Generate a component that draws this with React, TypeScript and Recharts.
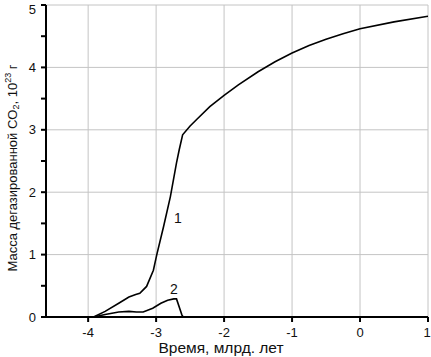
import React from 'react';
import { ComposedChart, Line, XAxis, YAxis, ReferenceLine } from 'recharts';

const curve1X = [-3.92, -3.75, -3.55, -3.4, -3.3, -3.24, -3.14, -3.04, -2.99, -2.89, -2.79, -2.7, -2.66, -2.61, -2.5, -2.4, -2.21, -2.0, -1.79, -1.5, -1.25, -1.0, -0.75, -0.5, -0.25, 0.0, 0.5, 1.0];
const curve1Y = [0, 0.09, 0.22, 0.32, 0.36, 0.38, 0.49, 0.75, 1.0, 1.45, 1.93, 2.47, 2.68, 2.92, 3.06, 3.17, 3.37, 3.55, 3.72, 3.93, 4.09, 4.23, 4.35, 4.45, 4.54, 4.62, 4.73, 4.82];
const curve2X = [-3.92, -3.75, -3.55, -3.4, -3.29, -3.19, -3.05, -2.93, -2.83, -2.74, -2.7, -2.62, -2.6];
const curve2Y = [0, 0.04, 0.08, 0.09, 0.08, 0.08, 0.14, 0.22, 0.27, 0.29, 0.29, 0.03, 0];
const xTicks = [-4, -3, -2, -1, 0, 1];
const yTicks = [0, 0.5, 1, 1.5, 2, 2.5, 3, 3.5, 4, 4.5, 5];
const yGrid = [1, 2, 3, 4, 5];

const data1 = curve1X.map((x, i) => ({ x, y: curve1Y[i] }));
const data2 = curve2X.map((x, i) => ({ x, y: curve2Y[i] }));

const FONT = '"Liberation Sans", Arial, sans-serif';

const YTick = (props: any) => {
  const { x, y, payload } = props;
  if (!Number.isInteger(payload.value)) return null;
  return (
    <text x={x - 3} y={y} dy={4.5} textAnchor="end" fontSize={13} fontFamily={FONT} fill="#111">
      {payload.value}
    </text>
  );
};

const XTick = (props: any) => {
  const { x, y, payload } = props;
  return (
    <text x={x} y={y + 13} textAnchor="middle" fontSize={13} fontFamily={FONT} fill="#111">
      {payload.value}
    </text>
  );
};

const YLabel = () => {
  const cx = 14;
  const cy = 168;
  return (
    <text
      x={cx}
      y={cy}
      transform={`rotate(-90 ${cx} ${cy})`}
      textAnchor="middle"
      dominantBaseline="middle"
      fontSize={13}
      fontFamily={FONT}
      fill="#111"
    >
      <tspan>Масса дегазированной CO</tspan>
      <tspan fontSize={9} dy={3}>2</tspan>
      <tspan dy={-3}>, 10</tspan>
      <tspan fontSize={9} dy={-5}>23</tspan>
      <tspan dy={5}> г</tspan>
    </text>
  );
};

const XLabel = () => (
  <text x={221} y={353} textAnchor="middle" fontSize={15.5} fontFamily={FONT} fill="#111">
    Время, млрд. лет
  </text>
);

export default function App() {
  return (
    <div style={{ position: 'absolute', left: 0, top: 0 }}>
      <ComposedChart width={431} height={357} margin={{ top: 5, right: 3, left: 0, bottom: 0 }}>
        {yGrid.map((v) => (
          <ReferenceLine key={'h' + v} y={v} stroke="#c4c4c4" strokeWidth={1} />
        ))}
        {xTicks.map((v) => (
          <ReferenceLine key={'v' + v} x={v} stroke="#c4c4c4" strokeWidth={1} />
        ))}
        <XAxis
          type="number"
          dataKey="x"
          domain={[-4.62, 1]}
          ticks={xTicks}
          allowDataOverflow
          height={40}
          stroke="#000"
          strokeWidth={2}
          tickSize={5}
          tick={<XTick />}
          label={<XLabel />}
        />
        <YAxis
          type="number"
          dataKey="y"
          domain={[0, 5]}
          ticks={yTicks}
          width={46}
          stroke="#000"
          strokeWidth={2}
          tickSize={5}
          tick={<YTick />}
          label={<YLabel />}
        />
        <Line
          data={data1}
          dataKey="y"
          type="linear"
          stroke="#000"
          strokeWidth={1.6}
          dot={false}
          isAnimationActive={false}
          label={(p: any) =>
            p.index === 9 ? (
              <text key="l1" x={178} y={223} textAnchor="middle" fontSize={14} fontFamily={FONT} fill="#111">1</text>
            ) : null
          }
        />
        <Line
          data={data2}
          dataKey="y"
          type="linear"
          stroke="#000"
          strokeWidth={1.6}
          dot={false}
          isAnimationActive={false}
          label={(p: any) =>
            p.index === 9 ? (
              <text key="l2" x={p.x} y={p.y - 5} textAnchor="middle" fontSize={14} fontFamily={FONT} fill="#111">2</text>
            ) : null
          }
        />
      </ComposedChart>
    </div>
  );
}
